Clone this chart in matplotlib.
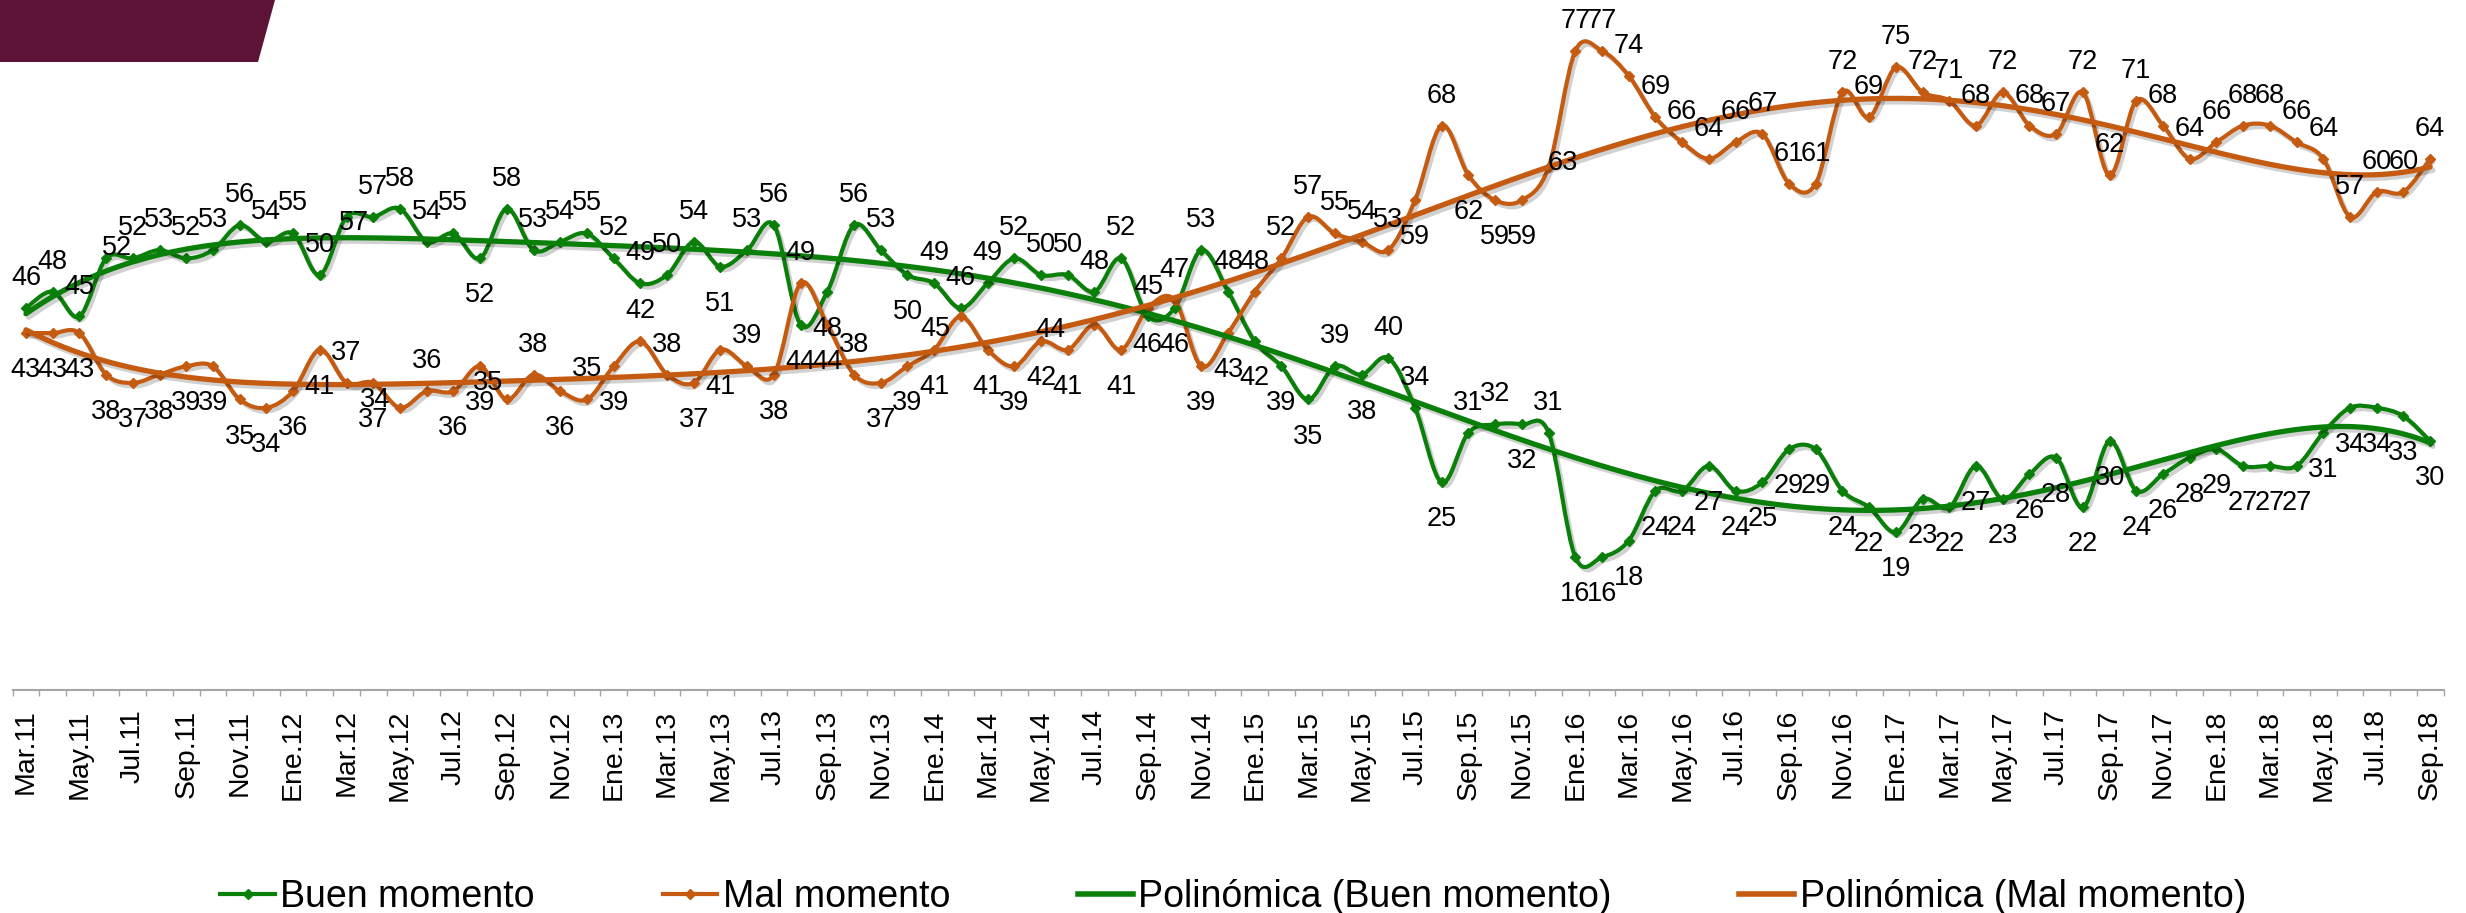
import matplotlib
matplotlib.use('Agg')
import matplotlib.pyplot as plt
import matplotlib.patheffects as pe
import numpy as np
from matplotlib.path import Path
from matplotlib.patches import PathPatch, Polygon
from matplotlib.lines import Line2D

plt.rcParams['font.family'] = ['Liberation Sans', 'DejaVu Sans']

# monthly survey, Mar.11 .. Sep.18
buen = [46, 48, 45, 52, 52, 53, 52, 53, 56, 54,
        55, 50, 57, 57, 58, 54, 55, 52, 58, 53,
        54, 55, 52, 49, 50, 54, 51, 53, 56, 44,
        48, 56, 53, 50, 49, 46, 49, 52, 50, 50,
        48, 52, 45, 46, 53, 48, 42, 39, 35, 39,
        38, 40, 34, 25, 31, 32, 32, 31, 16, 16,
        18, 24, 24, 27, 24, 25, 29, 29, 24, 22,
        19, 23, 22, 27, 23, 26, 28, 22, 30, 24,
        26, 28, 29, 27, 27, 27, 31, 34, 34, 33,
        30]
mal = [43, 43, 43, 38, 37, 38, 39, 39, 35, 34,
       36, 41, 37, 37, 34, 36, 36, 39, 35, 38,
       36, 35, 39, 42, 38, 37, 41, 39, 38, 49,
       44, 38, 37, 39, 41, 45, 41, 39, 42, 41,
       44, 41, 46, 47, 39, 43, 48, 52, 57, 55,
       54, 53, 59, 68, 62, 59, 59, 63, 77, 77,
       74, 69, 66, 64, 66, 67, 61, 61, 72, 69,
       75, 72, 71, 68, 72, 68, 67, 72, 62, 71,
       68, 64, 66, 68, 68, 66, 64, 57, 60, 60,
       64]
tick_labels = ['Mar.11', 'May.11', 'Jul.11', 'Sep.11', 'Nov.11',
               'Ene.12', 'Mar.12', 'May.12', 'Jul.12', 'Sep.12', 'Nov.12',
               'Ene.13', 'Mar.13', 'May.13', 'Jul.13', 'Sep.13', 'Nov.13',
               'Ene.14', 'Mar.14', 'May.14', 'Jul.14', 'Sep.14', 'Nov.14',
               'Ene.15', 'Mar.15', 'May.15', 'Jul.15', 'Sep.15', 'Nov.15',
               'Ene.16', 'Mar.16', 'May.16', 'Jul.16', 'Sep.16', 'Nov.16',
               'Ene.17', 'Mar.17', 'May.17', 'Jul.17', 'Sep.17', 'Nov.17',
               'Ene.18', 'Mar.18', 'May.18', 'Jul.18', 'Sep.18']

GREEN = '#0A800A'
ORANGE = '#C55A11'

# label placement (style only): which labels go below / above the point
buen_below = {17, 26, 29, 30, 33, 43, 46, 47, 48, 50, 53, 56} | set(range(58, 91))
mal_above = {12, 15, 18, 19, 21, 23, 24, 27, 29, 31, 43, 46, 47, 48, 49, 50, 51, 53} | set(range(58, 91))
# hand-nudged labels: (dx, dy) in pixels, dy up
buen_nudge = {12: (8, -3), 3: (11, 13)}
mal_nudge = {14: (-25, 11), 35: (-26, -10), 40: (-44, -2), 57: (14, 7), 18: (-19, 19)}


def smooth_path(x, y):
    # Excel style smoothed line: cubic bezier through the points
    pts = np.column_stack([x, y]).astype(float)
    n = len(pts)
    verts = [pts[0]]
    codes = [Path.MOVETO]
    for i in range(n - 1):
        p0 = pts[i - 1] if i > 0 else pts[i]
        p1 = pts[i]
        p2 = pts[i + 1]
        p3 = pts[i + 2] if i + 2 < n else pts[i + 1]
        verts += [p1 + (p2 - p0) / 6, p2 - (p3 - p1) / 6, p2]
        codes += [Path.CURVE4] * 3
    return Path(verts, codes)


W, H = 2466, 913
fig = plt.figure(figsize=(W / 100, H / 100), dpi=100)
ax = fig.add_axes([12.6 / W, (H - 690) / H, (2443.5 - 12.6) / W, 83 * 8.3 / H])

x = np.arange(len(buen))
shadow = [pe.SimpleLineShadow(offset=(2, -2.5), shadow_color='k', alpha=0.18), pe.Normal()]

for vals, col in [(buen, GREEN), (mal, ORANGE)]:
    patch = PathPatch(smooth_path(x, vals), fill=False, edgecolor=col, lw=3.0,
                      capstyle='round', joinstyle='round', zorder=3)
    patch.set_path_effects(shadow)
    ax.add_patch(patch)
    ax.plot(x, vals, ls='none', marker='D', ms=5, color=col, zorder=4)

# polynomial trendlines (order 6, as in the spreadsheet)
xs = np.linspace(0, len(buen) - 1, 500)
for vals, col in [(buen, GREEN), (mal, ORANGE)]:
    coef = np.polyfit(x, vals, 6)
    ax.plot(xs, np.polyval(coef, xs), color=col, lw=3.8, zorder=5,
            solid_capstyle='round', path_effects=shadow)

# data labels
px = 0.72
for vals, below_set, above_set, nudge in [(buen, buen_below, None, buen_nudge),
                                           (mal, None, mal_above, mal_nudge)]:
    for i, v in enumerate(vals):
        if below_set is not None:
            up = i not in below_set
        else:
            up = i in above_set
        dx, dy = 0, (33 if up else -34)
        if i in nudge:
            dx, dy = nudge[i]
        ax.annotate(str(v), (i, v), xytext=(dx * px, (dy - 3) * px),
                    textcoords='offset points', ha='center', va='center',
                    fontsize=19.5, color='black', zorder=6, annotation_clip=False)

ax.set_xlim(-0.5, len(buen) - 0.5)
ax.set_ylim(0, 83)
ax.set_yticks([])
for s in ['top', 'right', 'left']:
    ax.spines[s].set_visible(False)
ax.spines['bottom'].set_color('#A6A6A6')
ax.spines['bottom'].set_linewidth(1.5)

ax.set_xticks(np.arange(0, len(buen), 2))
ax.set_xticklabels(tick_labels, rotation=90, fontsize=20.5)
ax.set_xticks(np.arange(-0.5, len(buen), 1), minor=True)
ax.tick_params(axis='x', which='major', length=0, pad=14)
ax.tick_params(axis='x', which='minor', length=4.5, width=1, color='#A6A6A6', direction='out')

# slide decoration top left
fig.add_artist(Polygon([(0, 1), (275 / W, 1), (258 / W, 1 - 62 / H), (0, 1 - 62 / H)],
                       closed=True, transform=fig.transFigure, color='#5C1335', lw=0))

handles = [Line2D([], [], color=GREEN, lw=3, marker='D', ms=5),
           Line2D([], [], color=ORANGE, lw=3, marker='D', ms=5),
           Line2D([], [], color=GREEN, lw=4),
           Line2D([], [], color=ORANGE, lw=4)]
labels = ['Buen momento', 'Mal momento', 'Polinómica (Buen momento)', 'Polinómica (Mal momento)']
fig.legend(handles, labels, loc='center', bbox_to_anchor=(0.5, 0.0175), ncol=4,
           frameon=False, fontsize=27, handlelength=1.46, handletextpad=0.15,
           columnspacing=3.4, borderpad=0)

fig.savefig('out.png', dpi=100)
